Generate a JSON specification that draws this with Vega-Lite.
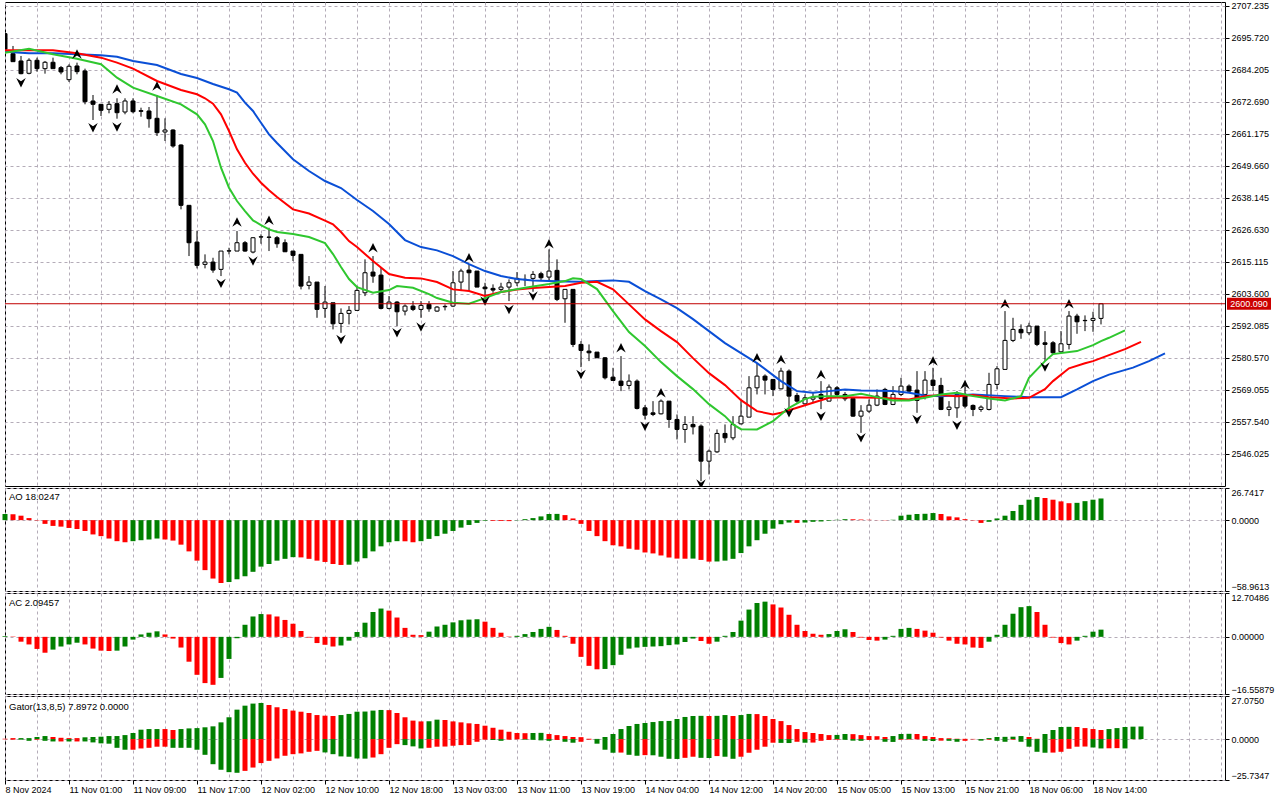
{
  "$schema": "https://vega.github.io/schema/vega-lite/v6.json",
  "padding": {"left": 2, "top": 1, "right": 0, "bottom": 0},
  "background": "#ffffff",
  "spacing": 2,
  "bounds": "flush",
  "config": {
    "view": {"stroke": "#000000", "strokeWidth": 1},
    "axis": {"gridColor": "#b4acb8", "gridDash": [3, 3], "gridWidth": 1, "domain": false, "tickColor": "#000000", "tickSize": 4, "labelFont": "Liberation Sans", "labelFontSize": 9, "labelColor": "#000000", "labelPadding": 2},
    "text": {"font": "Liberation Sans"}
  },
  "datasets": {
    "bars": [
      {"i":0,"o":2697.28,"h":2697.53,"l":2691.41,"c":2691.66,"ao":5.1,"aoc":"g","ac":0.2,"acc":"g"},
      {"i":1,"o":2690.08,"h":2692.85,"l":2687.09,"c":2687.20,"ao":4.9,"aoc":"r","ac":0.1,"acc":"r"},
      {"i":2,"o":2687.45,"h":2689.25,"l":2682.66,"c":2682.88,"ao":3.7,"aoc":"r","ac":-1.4,"acc":"r"},
      {"i":3,"o":2683.02,"h":2688.42,"l":2682.66,"c":2687.70,"ao":1.7,"aoc":"r","ac":-2.2,"acc":"r"},
      {"i":4,"o":2687.70,"h":2688.64,"l":2683.60,"c":2684.68,"ao":-0.3,"aoc":"r","ac":-3.5,"acc":"r"},
      {"i":5,"o":2684.68,"h":2687.45,"l":2682.88,"c":2686.98,"ao":-3.1,"aoc":"r","ac":-4.6,"acc":"r"},
      {"i":6,"o":2686.98,"h":2688.64,"l":2684.68,"c":2684.68,"ao":-4.8,"aoc":"r","ac":-3.7,"acc":"g"},
      {"i":7,"o":2685.04,"h":2685.65,"l":2682.66,"c":2683.49,"ao":-5.4,"aoc":"r","ac":-2.8,"acc":"g"},
      {"i":8,"o":2680.72,"h":2686.26,"l":2679.89,"c":2685.54,"ao":-6.5,"aoc":"r","ac":-2.2,"acc":"g"},
      {"i":9,"o":2685.65,"h":2686.84,"l":2682.66,"c":2683.60,"ao":-7.4,"aoc":"r","ac":-1.7,"acc":"g"},
      {"i":10,"o":2683.85,"h":2684.68,"l":2671.86,"c":2672.80,"ao":-9.0,"aoc":"r","ac":-2.2,"acc":"r"},
      {"i":11,"o":2673.05,"h":2675.21,"l":2666.21,"c":2671.86,"ao":-11.9,"aoc":"r","ac":-3.4,"acc":"r"},
      {"i":12,"o":2671.86,"h":2671.97,"l":2667.65,"c":2669.70,"ao":-13.3,"aoc":"r","ac":-4.0,"acc":"r"},
      {"i":13,"o":2670.06,"h":2673.05,"l":2668.62,"c":2671.86,"ao":-15.3,"aoc":"r","ac":-4.1,"acc":"r"},
      {"i":14,"o":2672.08,"h":2674.02,"l":2666.68,"c":2668.84,"ao":-17.5,"aoc":"r","ac":-4.0,"acc":"g"},
      {"i":15,"o":2669.09,"h":2674.02,"l":2668.26,"c":2673.05,"ao":-18.4,"aoc":"r","ac":-2.8,"acc":"g"},
      {"i":16,"o":2673.05,"h":2674.02,"l":2668.62,"c":2669.20,"ao":-17.5,"aoc":"g","ac":-0.8,"acc":"g"},
      {"i":17,"o":2669.56,"h":2670.64,"l":2667.40,"c":2669.34,"ao":-16.7,"aoc":"g","ac":0.7,"acc":"g"},
      {"i":18,"o":2669.45,"h":2670.89,"l":2663.44,"c":2666.68,"ao":-16.1,"aoc":"g","ac":1.2,"acc":"g"},
      {"i":19,"o":2666.82,"h":2675.21,"l":2660.45,"c":2661.64,"ao":-15.3,"aoc":"g","ac":1.6,"acc":"g"},
      {"i":20,"o":2661.89,"h":2666.82,"l":2658.65,"c":2662.61,"ao":-16.1,"aoc":"r","ac":0.7,"acc":"r"},
      {"i":21,"o":2662.61,"h":2662.86,"l":2656.24,"c":2656.85,"ao":-17.0,"aoc":"r","ac":-0.5,"acc":"r"},
      {"i":22,"o":2657.21,"h":2657.46,"l":2634.06,"c":2635.50,"ao":-20.4,"aoc":"r","ac":-3.1,"acc":"r"},
      {"i":23,"o":2635.50,"h":2635.50,"l":2617.25,"c":2622.04,"ao":-26.0,"aoc":"r","ac":-7.2,"acc":"r"},
      {"i":24,"o":2622.29,"h":2626.25,"l":2612.82,"c":2613.90,"ao":-33.7,"aoc":"r","ac":-11.0,"acc":"r"},
      {"i":25,"o":2614.26,"h":2617.86,"l":2612.82,"c":2615.09,"ao":-41.6,"aoc":"r","ac":-13.4,"acc":"r"},
      {"i":26,"o":2615.09,"h":2616.64,"l":2611.24,"c":2612.21,"ao":-48.6,"aoc":"r","ac":-13.9,"acc":"r"},
      {"i":27,"o":2612.46,"h":2619.05,"l":2610.05,"c":2619.05,"ao":-52.3,"aoc":"r","ac":-11.9,"acc":"g"},
      {"i":28,"o":2619.05,"h":2620.24,"l":2617.86,"c":2619.15,"ao":-51.5,"aoc":"g","ac":-6.4,"acc":"g"},
      {"i":29,"o":2619.05,"h":2626.25,"l":2619.05,"c":2622.04,"ao":-49.2,"aoc":"g","ac":-0.4,"acc":"g"},
      {"i":30,"o":2622.04,"h":2622.65,"l":2618.80,"c":2619.05,"ao":-46.7,"aoc":"g","ac":3.5,"acc":"g"},
      {"i":31,"o":2618.69,"h":2624.09,"l":2618.22,"c":2623.84,"ao":-43.0,"aoc":"g","ac":5.9,"acc":"g"},
      {"i":32,"o":2624.09,"h":2625.06,"l":2621.68,"c":2624.19,"ao":-38.7,"aoc":"g","ac":6.6,"acc":"g"},
      {"i":33,"o":2624.09,"h":2627.44,"l":2619.05,"c":2623.98,"ao":-36.5,"aoc":"g","ac":6.5,"acc":"r"},
      {"i":34,"o":2623.84,"h":2624.45,"l":2620.24,"c":2621.68,"ao":-33.7,"aoc":"g","ac":5.9,"acc":"r"},
      {"i":35,"o":2622.04,"h":2623.26,"l":2618.69,"c":2618.80,"ao":-32.2,"aoc":"g","ac":4.9,"acc":"r"},
      {"i":36,"o":2619.05,"h":2619.05,"l":2615.45,"c":2617.50,"ao":-30.8,"aoc":"g","ac":3.8,"acc":"r"},
      {"i":37,"o":2617.86,"h":2617.86,"l":2605.26,"c":2606.45,"ao":-31.0,"aoc":"r","ac":1.7,"acc":"r"},
      {"i":38,"o":2606.70,"h":2610.05,"l":2605.26,"c":2607.89,"ao":-32.2,"aoc":"r","ac":-0.2,"acc":"r"},
      {"i":39,"o":2607.89,"h":2607.89,"l":2595.04,"c":2598.06,"ao":-33.7,"aoc":"r","ac":-1.8,"acc":"r"},
      {"i":40,"o":2598.42,"h":2606.45,"l":2595.04,"c":2600.69,"ao":-34.8,"aoc":"r","ac":-2.3,"acc":"r"},
      {"i":41,"o":2600.44,"h":2600.44,"l":2590.86,"c":2592.88,"ao":-36.5,"aoc":"r","ac":-2.8,"acc":"r"},
      {"i":42,"o":2593.02,"h":2598.42,"l":2589.64,"c":2596.62,"ao":-37.3,"aoc":"r","ac":-2.5,"acc":"g"},
      {"i":43,"o":2596.62,"h":2599.25,"l":2592.66,"c":2597.70,"ao":-37.1,"aoc":"g","ac":-1.1,"acc":"g"},
      {"i":44,"o":2597.70,"h":2606.45,"l":2597.70,"c":2604.90,"ao":-34.5,"aoc":"g","ac":1.4,"acc":"g"},
      {"i":45,"o":2604.04,"h":2616.06,"l":2602.85,"c":2611.24,"ao":-31.7,"aoc":"g","ac":4.1,"acc":"g"},
      {"i":46,"o":2611.49,"h":2617.25,"l":2607.64,"c":2610.05,"ao":-26.0,"aoc":"g","ac":7.2,"acc":"g"},
      {"i":47,"o":2610.41,"h":2613.04,"l":2598.06,"c":2598.42,"ao":-21.8,"aoc":"g","ac":8.2,"acc":"g"},
      {"i":48,"o":2598.42,"h":2602.85,"l":2598.06,"c":2600.69,"ao":-18.4,"aoc":"g","ac":7.6,"acc":"r"},
      {"i":49,"o":2600.69,"h":2601.05,"l":2592.05,"c":2597.20,"ao":-17.5,"aoc":"g","ac":5.6,"acc":"r"},
      {"i":50,"o":2597.45,"h":2599.86,"l":2595.90,"c":2599.25,"ao":-17.6,"aoc":"r","ac":2.6,"acc":"r"},
      {"i":51,"o":2599.25,"h":2601.05,"l":2597.45,"c":2598.06,"ao":-18.4,"aoc":"r","ac":0.6,"acc":"r"},
      {"i":52,"o":2598.06,"h":2601.05,"l":2595.04,"c":2599.50,"ao":-17.5,"aoc":"g","ac":0.5,"acc":"r"},
      {"i":53,"o":2599.86,"h":2601.05,"l":2597.20,"c":2598.28,"ao":-15.6,"aoc":"g","ac":1.5,"acc":"g"},
      {"i":54,"o":2597.45,"h":2599.25,"l":2597.20,"c":2598.89,"ao":-13.3,"aoc":"g","ac":3.0,"acc":"g"},
      {"i":55,"o":2599.00,"h":2599.86,"l":2597.70,"c":2599.14,"ao":-11.3,"aoc":"g","ac":3.5,"acc":"g"},
      {"i":56,"o":2599.25,"h":2611.85,"l":2598.89,"c":2607.64,"ao":-9.0,"aoc":"g","ac":4.2,"acc":"g"},
      {"i":57,"o":2607.89,"h":2612.68,"l":2604.65,"c":2611.85,"ao":-6.2,"aoc":"g","ac":4.8,"acc":"g"},
      {"i":58,"o":2612.21,"h":2614.26,"l":2604.65,"c":2611.24,"ao":-4.0,"aoc":"g","ac":5.0,"acc":"g"},
      {"i":59,"o":2611.85,"h":2611.85,"l":2606.09,"c":2606.09,"ao":-2.3,"aoc":"g","ac":5.1,"acc":"g"},
      {"i":60,"o":2606.09,"h":2607.64,"l":2601.77,"c":2605.48,"ao":-0.5,"aoc":"g","ac":4.4,"acc":"r"},
      {"i":61,"o":2605.62,"h":2607.06,"l":2604.04,"c":2605.01,"ao":-0.6,"aoc":"r","ac":2.6,"acc":"r"},
      {"i":62,"o":2605.26,"h":2607.64,"l":2604.65,"c":2606.09,"ao":-0.7,"aoc":"r","ac":1.2,"acc":"r"},
      {"i":63,"o":2606.09,"h":2608.86,"l":2601.05,"c":2607.64,"ao":-0.8,"aoc":"r","ac":0.1,"acc":"r"},
      {"i":64,"o":2607.64,"h":2611.49,"l":2606.45,"c":2609.22,"ao":-0.2,"aoc":"g","ac":0.3,"acc":"g"},
      {"i":65,"o":2608.86,"h":2610.66,"l":2606.45,"c":2608.76,"ao":0.8,"aoc":"g","ac":0.8,"acc":"g"},
      {"i":66,"o":2609.22,"h":2611.85,"l":2604.40,"c":2610.66,"ao":1.7,"aoc":"g","ac":1.4,"acc":"g"},
      {"i":67,"o":2610.88,"h":2611.60,"l":2608.25,"c":2609.44,"ao":3.1,"aoc":"g","ac":2.3,"acc":"g"},
      {"i":68,"o":2609.69,"h":2619.66,"l":2608.50,"c":2611.85,"ao":5.1,"aoc":"g","ac":2.9,"acc":"g"},
      {"i":69,"o":2612.10,"h":2616.06,"l":2601.05,"c":2601.66,"ao":5.2,"aoc":"g","ac":2.0,"acc":"r"},
      {"i":70,"o":2601.88,"h":2605.26,"l":2593.24,"c":2605.26,"ao":4.2,"aoc":"r","ac":0.3,"acc":"r"},
      {"i":71,"o":2605.26,"h":2605.26,"l":2584.49,"c":2585.46,"ao":1.4,"aoc":"r","ac":-2.0,"acc":"r"},
      {"i":72,"o":2585.46,"h":2586.65,"l":2577.29,"c":2583.30,"ao":-3.1,"aoc":"r","ac":-5.8,"acc":"r"},
      {"i":73,"o":2583.05,"h":2585.46,"l":2579.45,"c":2582.44,"ao":-9.0,"aoc":"r","ac":-8.4,"acc":"r"},
      {"i":74,"o":2582.69,"h":2582.69,"l":2580.64,"c":2580.64,"ao":-13.3,"aoc":"r","ac":-9.4,"acc":"r"},
      {"i":75,"o":2580.64,"h":2580.89,"l":2572.86,"c":2573.44,"ao":-17.5,"aoc":"r","ac":-9.3,"acc":"g"},
      {"i":76,"o":2573.69,"h":2577.04,"l":2572.50,"c":2572.50,"ao":-20.9,"aoc":"r","ac":-8.2,"acc":"g"},
      {"i":77,"o":2572.25,"h":2581.25,"l":2568.65,"c":2570.70,"ao":-21.8,"aoc":"r","ac":-5.2,"acc":"g"},
      {"i":78,"o":2570.70,"h":2574.66,"l":2569.26,"c":2572.25,"ao":-23.8,"aoc":"r","ac":-3.4,"acc":"g"},
      {"i":79,"o":2572.25,"h":2572.86,"l":2562.06,"c":2562.42,"ao":-24.6,"aoc":"r","ac":-3.1,"acc":"g"},
      {"i":80,"o":2562.64,"h":2563.61,"l":2558.46,"c":2560.01,"ao":-26.9,"aoc":"r","ac":-2.9,"acc":"g"},
      {"i":81,"o":2560.84,"h":2565.05,"l":2559.65,"c":2560.26,"ao":-27.7,"aoc":"r","ac":-2.8,"acc":"g"},
      {"i":82,"o":2560.48,"h":2565.66,"l":2560.26,"c":2565.05,"ao":-29.4,"aoc":"r","ac":-2.7,"acc":"g"},
      {"i":83,"o":2565.05,"h":2565.05,"l":2555.44,"c":2558.46,"ao":-31.1,"aoc":"r","ac":-2.4,"acc":"g"},
      {"i":84,"o":2558.46,"h":2560.26,"l":2551.26,"c":2554.86,"ao":-32.0,"aoc":"r","ac":-2.2,"acc":"g"},
      {"i":85,"o":2554.86,"h":2559.65,"l":2550.04,"c":2556.66,"ao":-32.1,"aoc":"r","ac":-1.5,"acc":"g"},
      {"i":86,"o":2556.66,"h":2559.65,"l":2553.06,"c":2555.80,"ao":-32.0,"aoc":"g","ac":-0.5,"acc":"g"},
      {"i":87,"o":2556.05,"h":2556.66,"l":2536.25,"c":2543.45,"ao":-33.1,"aoc":"r","ac":-1.2,"acc":"r"},
      {"i":88,"o":2543.45,"h":2547.66,"l":2538.66,"c":2547.05,"ao":-34.5,"aoc":"r","ac":-2.0,"acc":"r"},
      {"i":89,"o":2546.80,"h":2554.86,"l":2546.44,"c":2553.42,"ao":-34.4,"aoc":"g","ac":-1.4,"acc":"g"},
      {"i":90,"o":2553.42,"h":2556.66,"l":2550.04,"c":2551.84,"ao":-33.7,"aoc":"g","ac":0.3,"acc":"g"},
      {"i":91,"o":2551.84,"h":2559.65,"l":2551.01,"c":2556.66,"ao":-32.2,"aoc":"g","ac":1.4,"acc":"g"},
      {"i":92,"o":2556.88,"h":2565.05,"l":2556.66,"c":2559.65,"ao":-27.4,"aoc":"g","ac":4.7,"acc":"g"},
      {"i":93,"o":2559.29,"h":2574.05,"l":2559.29,"c":2569.84,"ao":-21.8,"aoc":"g","ac":7.9,"acc":"g"},
      {"i":94,"o":2569.84,"h":2578.84,"l":2567.46,"c":2574.05,"ao":-16.7,"aoc":"g","ac":9.8,"acc":"g"},
      {"i":95,"o":2574.05,"h":2574.66,"l":2567.46,"c":2572.61,"ao":-11.3,"aoc":"g","ac":10.2,"acc":"g"},
      {"i":96,"o":2572.86,"h":2572.86,"l":2566.85,"c":2569.26,"ao":-7.1,"aoc":"g","ac":9.4,"acc":"r"},
      {"i":97,"o":2569.48,"h":2577.04,"l":2569.26,"c":2575.85,"ao":-3.4,"aoc":"g","ac":8.5,"acc":"r"},
      {"i":98,"o":2575.85,"h":2576.46,"l":2560.84,"c":2566.85,"ao":-2.0,"aoc":"g","ac":6.4,"acc":"r"},
      {"i":99,"o":2567.10,"h":2568.04,"l":2564.44,"c":2565.05,"ao":-2.3,"aoc":"r","ac":3.5,"acc":"r"},
      {"i":100,"o":2564.08,"h":2567.46,"l":2563.86,"c":2566.24,"ao":-2.0,"aoc":"g","ac":1.7,"acc":"r"},
      {"i":101,"o":2565.77,"h":2567.93,"l":2564.33,"c":2566.49,"ao":-1.4,"aoc":"g","ac":0.9,"acc":"r"},
      {"i":102,"o":2567.46,"h":2572.25,"l":2562.17,"c":2566.02,"ao":-1.1,"aoc":"g","ac":0.6,"acc":"r"},
      {"i":103,"o":2565.05,"h":2571.06,"l":2565.05,"c":2570.09,"ao":-0.5,"aoc":"g","ac":0.8,"acc":"g"},
      {"i":104,"o":2569.84,"h":2570.45,"l":2566.85,"c":2567.46,"ao":0.3,"aoc":"g","ac":1.7,"acc":"g"},
      {"i":105,"o":2567.46,"h":2568.29,"l":2565.05,"c":2565.88,"ao":0.8,"aoc":"g","ac":2.2,"acc":"g"},
      {"i":106,"o":2566.02,"h":2566.24,"l":2559.40,"c":2559.65,"ao":0.7,"aoc":"r","ac":1.4,"acc":"r"},
      {"i":107,"o":2559.65,"h":2563.61,"l":2553.64,"c":2561.45,"ao":0.5,"aoc":"r","ac":-0.2,"acc":"r"},
      {"i":108,"o":2561.45,"h":2565.66,"l":2560.84,"c":2563.61,"ao":0.3,"aoc":"r","ac":-0.9,"acc":"r"},
      {"i":109,"o":2563.61,"h":2569.26,"l":2563.25,"c":2566.85,"ao":0.1,"aoc":"r","ac":-1.1,"acc":"r"},
      {"i":110,"o":2569.26,"h":2569.84,"l":2563.61,"c":2563.86,"ao":-0.2,"aoc":"r","ac":-0.8,"acc":"g"},
      {"i":111,"o":2563.86,"h":2570.45,"l":2563.61,"c":2567.46,"ao":0.3,"aoc":"g","ac":0.3,"acc":"g"},
      {"i":112,"o":2567.46,"h":2573.44,"l":2566.85,"c":2570.45,"ao":3.7,"aoc":"g","ac":2.3,"acc":"g"},
      {"i":113,"o":2570.45,"h":2571.06,"l":2568.04,"c":2568.65,"ao":4.5,"aoc":"g","ac":2.6,"acc":"g"},
      {"i":114,"o":2569.01,"h":2575.85,"l":2560.84,"c":2565.30,"ao":5.1,"aoc":"g","ac":2.3,"acc":"r"},
      {"i":115,"o":2567.46,"h":2575.85,"l":2565.66,"c":2572.61,"ao":5.3,"aoc":"g","ac":1.8,"acc":"r"},
      {"i":116,"o":2572.61,"h":2577.04,"l":2568.65,"c":2570.70,"ao":5.9,"aoc":"g","ac":1.2,"acc":"r"},
      {"i":117,"o":2570.70,"h":2573.44,"l":2561.81,"c":2562.06,"ao":5.1,"aoc":"r","ac":-0.2,"acc":"r"},
      {"i":118,"o":2562.06,"h":2565.05,"l":2559.65,"c":2562.89,"ao":3.1,"aoc":"r","ac":-1.1,"acc":"r"},
      {"i":119,"o":2562.64,"h":2568.65,"l":2559.04,"c":2567.46,"ao":2.3,"aoc":"r","ac":-2.0,"acc":"r"},
      {"i":120,"o":2567.46,"h":2570.45,"l":2562.42,"c":2563.25,"ao":0.8,"aoc":"r","ac":-2.2,"acc":"r"},
      {"i":121,"o":2563.50,"h":2563.86,"l":2559.65,"c":2562.06,"ao":-0.3,"aoc":"r","ac":-3.1,"acc":"r"},
      {"i":122,"o":2562.06,"h":2563.50,"l":2561.20,"c":2562.89,"ao":-2.3,"aoc":"r","ac":-3.2,"acc":"r"},
      {"i":123,"o":2562.06,"h":2575.24,"l":2561.70,"c":2571.06,"ao":-1.4,"aoc":"g","ac":-1.4,"acc":"g"},
      {"i":124,"o":2571.06,"h":2577.65,"l":2569.26,"c":2576.68,"ao":1.4,"aoc":"g","ac":0.6,"acc":"g"},
      {"i":125,"o":2576.46,"h":2597.45,"l":2576.46,"c":2586.90,"ao":3.7,"aoc":"g","ac":3.5,"acc":"g"},
      {"i":126,"o":2586.90,"h":2595.04,"l":2586.29,"c":2590.86,"ao":7.6,"aoc":"g","ac":6.7,"acc":"g"},
      {"i":127,"o":2590.86,"h":2592.66,"l":2587.48,"c":2589.64,"ao":12.7,"aoc":"g","ac":8.6,"acc":"g"},
      {"i":128,"o":2589.64,"h":2593.24,"l":2588.81,"c":2592.05,"ao":17.0,"aoc":"g","ac":8.9,"acc":"g"},
      {"i":129,"o":2592.05,"h":2592.05,"l":2584.85,"c":2585.46,"ao":19.2,"aoc":"g","ac":7.2,"acc":"r"},
      {"i":130,"o":2586.04,"h":2590.25,"l":2579.45,"c":2585.46,"ao":18.4,"aoc":"r","ac":3.5,"acc":"r"},
      {"i":131,"o":2586.04,"h":2586.65,"l":2581.86,"c":2582.44,"ao":17.0,"aoc":"r","ac":-0.2,"acc":"r"},
      {"i":132,"o":2582.80,"h":2590.25,"l":2582.44,"c":2585.68,"ao":15.6,"aoc":"r","ac":-1.8,"acc":"r"},
      {"i":133,"o":2585.46,"h":2597.45,"l":2583.66,"c":2595.65,"ao":14.1,"aoc":"r","ac":-2.2,"acc":"r"},
      {"i":134,"o":2595.65,"h":2596.48,"l":2589.28,"c":2593.60,"ao":14.4,"aoc":"g","ac":-1.1,"acc":"g"},
      {"i":135,"o":2594.10,"h":2595.90,"l":2590.25,"c":2594.00,"ao":15.8,"aoc":"g","ac":0.3,"acc":"g"},
      {"i":136,"o":2594.10,"h":2597.20,"l":2590.00,"c":2594.82,"ao":17.0,"aoc":"g","ac":1.5,"acc":"g"},
      {"i":137,"o":2594.82,"h":2600.35,"l":2592.66,"c":2600.09,"ao":18.02,"aoc":"g","ac":2.09,"acc":"g"}
    ],
    "gator": [
      {"i":0,"u":0.2,"uc":"r","d":-0.2,"dc":"r"},{"i":1,"u":0.6,"uc":"r","d":-0.4,"dc":"r"},{"i":2,"u":0.6,"uc":"g","d":-0.4,"dc":"g"},{"i":3,"u":0.6,"uc":"g","d":-1.1,"dc":"g"},
      {"i":4,"u":1.3,"uc":"g","d":-0.4,"dc":"r"},{"i":5,"u":1.9,"uc":"g","d":-1.1,"dc":"g"},{"i":6,"u":1.3,"uc":"r","d":-1.5,"dc":"g"},{"i":7,"u":0.8,"uc":"r","d":-1.5,"dc":"r"},
      {"i":8,"u":0.6,"uc":"r","d":-1.5,"dc":"g"},{"i":9,"u":0.6,"uc":"r","d":-1.5,"dc":"r"},{"i":10,"u":1.1,"uc":"g","d":-1.5,"dc":"g"},{"i":11,"u":1.3,"uc":"g","d":-2.1,"dc":"g"},
      {"i":12,"u":1.5,"uc":"g","d":-2.7,"dc":"g"},{"i":13,"u":1.9,"uc":"g","d":-2.9,"dc":"g"},{"i":14,"u":1.9,"uc":"g","d":-5.5,"dc":"g"},{"i":15,"u":2.5,"uc":"g","d":-6.7,"dc":"g"},
      {"i":16,"u":3.8,"uc":"g","d":-6.7,"dc":"r"},{"i":17,"u":5.9,"uc":"g","d":-5.9,"dc":"r"},{"i":18,"u":6.3,"uc":"g","d":-5.5,"dc":"r"},{"i":19,"u":6.3,"uc":"g","d":-4.8,"dc":"r"},
      {"i":20,"u":6.3,"uc":"r","d":-4.8,"dc":"r"},{"i":21,"u":5.7,"uc":"r","d":-5.5,"dc":"g"},{"i":22,"u":6.3,"uc":"g","d":-5.5,"dc":"g"},{"i":23,"u":6.7,"uc":"g","d":-5.5,"dc":"g"},
      {"i":24,"u":6.9,"uc":"g","d":-6.7,"dc":"g"},{"i":25,"u":7.4,"uc":"g","d":-9.9,"dc":"g"},{"i":26,"u":8.0,"uc":"g","d":-15.8,"dc":"g"},{"i":27,"u":10.5,"uc":"g","d":-19.3,"dc":"g"},
      {"i":28,"u":13.7,"uc":"g","d":-20.8,"dc":"g"},{"i":29,"u":18.5,"uc":"g","d":-21.2,"dc":"g"},{"i":30,"u":21.0,"uc":"g","d":-20.0,"dc":"r"},{"i":31,"u":22.3,"uc":"g","d":-17.9,"dc":"r"},
      {"i":32,"u":22.7,"uc":"g","d":-15.1,"dc":"r"},{"i":33,"u":21.4,"uc":"r","d":-13.7,"dc":"r"},{"i":34,"u":20.0,"uc":"r","d":-12.2,"dc":"r"},{"i":35,"u":18.9,"uc":"r","d":-10.5,"dc":"r"},
      {"i":36,"u":17.9,"uc":"r","d":-9.5,"dc":"r"},{"i":37,"u":17.2,"uc":"r","d":-9.0,"dc":"r"},{"i":38,"u":16.4,"uc":"r","d":-8.0,"dc":"r"},{"i":39,"u":15.1,"uc":"r","d":-7.4,"dc":"r"},
      {"i":40,"u":14.7,"uc":"r","d":-8.4,"dc":"g"},{"i":41,"u":14.5,"uc":"r","d":-9.5,"dc":"g"},{"i":42,"u":15.1,"uc":"g","d":-10.9,"dc":"g"},{"i":43,"u":15.8,"uc":"g","d":-11.1,"dc":"g"},
      {"i":44,"u":17.2,"uc":"g","d":-12.2,"dc":"g"},{"i":45,"u":17.3,"uc":"g","d":-12.3,"dc":"g"},{"i":46,"u":17.9,"uc":"g","d":-11.6,"dc":"r"},{"i":47,"u":18.3,"uc":"g","d":-9.5,"dc":"r"},
      {"i":48,"u":18.2,"uc":"r","d":-5.5,"dc":"r"},{"i":49,"u":16.4,"uc":"r","d":-3.2,"dc":"r"},{"i":50,"u":13.7,"uc":"r","d":-3.8,"dc":"g"},{"i":51,"u":11.6,"uc":"r","d":-4.6,"dc":"g"},
      {"i":52,"u":11.1,"uc":"r","d":-5.9,"dc":"g"},{"i":53,"u":11.2,"uc":"g","d":-5.5,"dc":"r"},{"i":54,"u":12.2,"uc":"g","d":-4.8,"dc":"r"},{"i":55,"u":12.0,"uc":"r","d":-4.7,"dc":"r"},
      {"i":56,"u":11.1,"uc":"r","d":-4.2,"dc":"r"},{"i":57,"u":10.5,"uc":"r","d":-3.8,"dc":"r"},{"i":58,"u":9.9,"uc":"r","d":-3.7,"dc":"r"},{"i":59,"u":9.5,"uc":"r","d":-1.7,"dc":"r"},
      {"i":60,"u":8.4,"uc":"r","d":-0.4,"dc":"r"},{"i":61,"u":7.1,"uc":"r","d":-0.6,"dc":"g"},{"i":62,"u":5.9,"uc":"r","d":-1.1,"dc":"g"},{"i":63,"u":4.6,"uc":"r","d":-0.4,"dc":"r"},
      {"i":64,"u":3.8,"uc":"r","d":-0.2,"dc":"r"},{"i":65,"u":3.7,"uc":"r","d":-0.4,"dc":"g"},{"i":66,"u":3.8,"uc":"g","d":-0.5,"dc":"g"},{"i":67,"u":3.9,"uc":"g","d":-0.8,"dc":"g"},
      {"i":68,"u":3.2,"uc":"r","d":-1.1,"dc":"g"},{"i":69,"u":2.5,"uc":"r","d":-0.6,"dc":"r"},{"i":70,"u":1.9,"uc":"r","d":-1.7,"dc":"g"},{"i":71,"u":1.3,"uc":"r","d":-2.3,"dc":"g"},
      {"i":72,"u":1.2,"uc":"r","d":-1.7,"dc":"r"},{"i":73,"u":0.2,"uc":"r","d":-0.4,"dc":"r"},{"i":74,"u":0.1,"uc":"g","d":-2.9,"dc":"g"},{"i":75,"u":1.3,"uc":"g","d":-6.7,"dc":"g"},
      {"i":76,"u":3.2,"uc":"g","d":-8.6,"dc":"g"},{"i":77,"u":6.3,"uc":"g","d":-8.5,"dc":"r"},{"i":78,"u":8.2,"uc":"g","d":-9.9,"dc":"g"},{"i":79,"u":9.5,"uc":"g","d":-10.5,"dc":"g"},
      {"i":80,"u":10.1,"uc":"g","d":-10.1,"dc":"r"},{"i":81,"u":10.7,"uc":"g","d":-10.2,"dc":"g"},{"i":82,"u":11.3,"uc":"g","d":-11.1,"dc":"g"},{"i":83,"u":11.4,"uc":"g","d":-12.4,"dc":"g"},
      {"i":84,"u":12.6,"uc":"g","d":-12.5,"dc":"g"},{"i":85,"u":13.9,"uc":"g","d":-11.8,"dc":"r"},{"i":86,"u":14.5,"uc":"g","d":-11.1,"dc":"r"},{"i":87,"u":14.6,"uc":"g","d":-11.8,"dc":"g"},
      {"i":88,"u":14.5,"uc":"r","d":-11.9,"dc":"g"},{"i":89,"u":14.6,"uc":"g","d":-10.7,"dc":"r"},{"i":90,"u":15.1,"uc":"g","d":-11.1,"dc":"g"},{"i":91,"u":14.5,"uc":"r","d":-12.4,"dc":"g"},
      {"i":92,"u":15.1,"uc":"g","d":-11.1,"dc":"r"},{"i":93,"u":15.8,"uc":"g","d":-8.6,"dc":"r"},{"i":94,"u":15.7,"uc":"r","d":-6.7,"dc":"r"},{"i":95,"u":14.5,"uc":"r","d":-4.8,"dc":"r"},
      {"i":96,"u":12.6,"uc":"r","d":-2.3,"dc":"r"},{"i":97,"u":11.3,"uc":"r","d":-2.4,"dc":"g"},{"i":98,"u":8.8,"uc":"r","d":-2.5,"dc":"g"},{"i":99,"u":6.3,"uc":"r","d":-1.7,"dc":"r"},
      {"i":100,"u":4.4,"uc":"r","d":-2.3,"dc":"g"},{"i":101,"u":3.8,"uc":"r","d":-2.2,"dc":"r"},{"i":102,"u":3.2,"uc":"r","d":-1.1,"dc":"r"},{"i":103,"u":2.5,"uc":"r","d":-0.6,"dc":"r"},
      {"i":104,"u":2.6,"uc":"g","d":-0.4,"dc":"r"},{"i":105,"u":3.2,"uc":"g","d":-0.5,"dc":"g"},{"i":106,"u":3.1,"uc":"r","d":-1.0,"dc":"g"},{"i":107,"u":2.5,"uc":"r","d":-1.1,"dc":"g"},
      {"i":108,"u":1.9,"uc":"r","d":-0.6,"dc":"r"},{"i":109,"u":1.8,"uc":"r","d":-0.4,"dc":"r"},{"i":110,"u":1.3,"uc":"r","d":-1.7,"dc":"g"},{"i":111,"u":1.9,"uc":"g","d":-1.8,"dc":"g"},
      {"i":112,"u":3.2,"uc":"g","d":-0.4,"dc":"r"},{"i":113,"u":3.3,"uc":"g","d":-0.3,"dc":"r"},{"i":114,"u":3.2,"uc":"r","d":-0.2,"dc":"r"},{"i":115,"u":1.9,"uc":"r","d":-1.1,"dc":"g"},
      {"i":116,"u":1.3,"uc":"r","d":-1.2,"dc":"g"},{"i":117,"u":0.6,"uc":"r","d":-1.0,"dc":"r"},{"i":118,"u":0.5,"uc":"r","d":-1.1,"dc":"g"},{"i":119,"u":0.2,"uc":"r","d":-1.7,"dc":"g"},
      {"i":120,"u":0.15,"uc":"r","d":-1.1,"dc":"r"},{"i":121,"u":0.1,"uc":"r","d":-0.2,"dc":"r"},{"i":122,"u":0.05,"uc":"r","d":-1.0,"dc":"g"},{"i":123,"u":0.6,"uc":"g","d":-0.4,"dc":"r"},
      {"i":124,"u":1.3,"uc":"g","d":-1.1,"dc":"g"},{"i":125,"u":1.4,"uc":"g","d":-1.7,"dc":"g"},{"i":126,"u":1.5,"uc":"g","d":-0.4,"dc":"r"},{"i":127,"u":1.9,"uc":"g","d":-1.7,"dc":"g"},
      {"i":128,"u":1.3,"uc":"r","d":-4.8,"dc":"g"},{"i":129,"u":0.2,"uc":"r","d":-8.0,"dc":"g"},{"i":130,"u":3.2,"uc":"g","d":-8.6,"dc":"g"},{"i":131,"u":5.7,"uc":"g","d":-8.5,"dc":"r"},
      {"i":132,"u":7.6,"uc":"g","d":-8.0,"dc":"r"},{"i":133,"u":7.7,"uc":"g","d":-6.1,"dc":"r"},{"i":134,"u":7.6,"uc":"r","d":-4.8,"dc":"r"},{"i":135,"u":6.9,"uc":"r","d":-4.7,"dc":"r"},
      {"i":136,"u":6.3,"uc":"r","d":-5.3,"dc":"g"},{"i":137,"u":5.7,"uc":"r","d":-5.9,"dc":"g"},{"i":138,"u":6.3,"uc":"g","d":-5.8,"dc":"r"},{"i":139,"u":6.9,"uc":"g","d":-5.7,"dc":"r"},
      {"i":140,"u":7.6,"uc":"g","d":-5.9,"dc":"g"},{"i":141,"u":7.8,"uc":"g","d":-0.1,"dc":"r"},{"i":142,"u":7.9,"uc":"g","d":0,"dc":"r"}
    ],
    "al": [
      {"i":0,"s":"jaw","v":2690.80},{"i":3,"s":"jaw","v":2690.22},{"i":6,"s":"jaw","v":2690.22},{"i":9,"s":"jaw","v":2689.86},{"i":12,"s":"jaw","v":2689.50},{"i":14,"s":"jaw","v":2689.00},
      {"i":16,"s":"jaw","v":2687.45},{"i":19,"s":"jaw","v":2686.01},{"i":22,"s":"jaw","v":2682.77},{"i":24,"s":"jaw","v":2681.33},{"i":26,"s":"jaw","v":2679.17},{"i":28,"s":"jaw","v":2677.26},
      {"i":29,"s":"jaw","v":2676.04},{"i":30,"s":"jaw","v":2672.44},{"i":31,"s":"jaw","v":2669.45},{"i":32,"s":"jaw","v":2665.24},{"i":33,"s":"jaw","v":2661.06},{"i":34,"s":"jaw","v":2657.93},
      {"i":36,"s":"jaw","v":2652.06},{"i":38,"s":"jaw","v":2647.85},{"i":40,"s":"jaw","v":2644.25},{"i":42,"s":"jaw","v":2641.73},{"i":44,"s":"jaw","v":2637.41},{"i":46,"s":"jaw","v":2633.45},
      {"i":48,"s":"jaw","v":2628.77},{"i":50,"s":"jaw","v":2623.01},{"i":52,"s":"jaw","v":2620.49},{"i":54,"s":"jaw","v":2619.30},{"i":56,"s":"jaw","v":2617.25},{"i":58,"s":"jaw","v":2614.37},
      {"i":60,"s":"jaw","v":2611.85},{"i":62,"s":"jaw","v":2610.05},{"i":64,"s":"jaw","v":2608.97},{"i":66,"s":"jaw","v":2608.50},{"i":68,"s":"jaw","v":2608.25},{"i":70,"s":"jaw","v":2608.07},
      {"i":72,"s":"jaw","v":2608.00},{"i":74,"s":"jaw","v":2608.25},{"i":76,"s":"jaw","v":2608.50},{"i":78,"s":"jaw","v":2608.00},{"i":80,"s":"jaw","v":2604.65},{"i":82,"s":"jaw","v":2601.64},
      {"i":84,"s":"jaw","v":2598.53},{"i":86,"s":"jaw","v":2594.57},{"i":88,"s":"jaw","v":2590.25},{"i":90,"s":"jaw","v":2585.93},{"i":92,"s":"jaw","v":2582.33},{"i":94,"s":"jaw","v":2578.73},
      {"i":96,"s":"jaw","v":2574.41},{"i":97,"s":"jaw","v":2572.25},{"i":99,"s":"jaw","v":2568.65},{"i":101,"s":"jaw","v":2568.04},{"i":103,"s":"jaw","v":2568.65},{"i":105,"s":"jaw","v":2569.26},
      {"i":107,"s":"jaw","v":2568.90},{"i":111,"s":"jaw","v":2568.65},{"i":113,"s":"jaw","v":2568.04},{"i":115,"s":"jaw","v":2567.10},{"i":117,"s":"jaw","v":2566.85},{"i":121,"s":"jaw","v":2567.46},
      {"i":125,"s":"jaw","v":2566.85},{"i":128,"s":"jaw","v":2566.49},{"i":132,"s":"jaw","v":2566.49},{"i":134,"s":"jaw","v":2569.26},{"i":136,"s":"jaw","v":2572.25},{"i":138,"s":"jaw","v":2574.59},
      {"i":141,"s":"jaw","v":2577.11},{"i":143,"s":"jaw","v":2579.45},{"i":145,"s":"jaw","v":2582.22},
      {"i":0,"s":"teeth","v":2691.30},{"i":3,"s":"teeth","v":2691.30},{"i":6,"s":"teeth","v":2691.30},{"i":9,"s":"teeth","v":2690.22},{"i":12,"s":"teeth","v":2688.64},{"i":14,"s":"teeth","v":2686.84},
      {"i":16,"s":"teeth","v":2684.68},{"i":19,"s":"teeth","v":2680.25},{"i":22,"s":"teeth","v":2677.01},{"i":24,"s":"teeth","v":2675.46},{"i":25,"s":"teeth","v":2674.02},{"i":26,"s":"teeth","v":2672.08},
      {"i":27,"s":"teeth","v":2668.26},{"i":28,"s":"teeth","v":2662.25},{"i":29,"s":"teeth","v":2655.66},{"i":30,"s":"teeth","v":2650.84},{"i":31,"s":"teeth","v":2646.88},{"i":32,"s":"teeth","v":2643.64},
      {"i":33,"s":"teeth","v":2640.90},{"i":34,"s":"teeth","v":2638.49},{"i":36,"s":"teeth","v":2634.06},{"i":38,"s":"teeth","v":2632.55},{"i":40,"s":"teeth","v":2630.03},{"i":41,"s":"teeth","v":2628.66},
      {"i":42,"s":"teeth","v":2625.89},{"i":43,"s":"teeth","v":2622.65},{"i":44,"s":"teeth","v":2620.49},{"i":46,"s":"teeth","v":2615.45},{"i":48,"s":"teeth","v":2610.77},{"i":50,"s":"teeth","v":2609.44},
      {"i":52,"s":"teeth","v":2609.22},{"i":54,"s":"teeth","v":2607.89},{"i":56,"s":"teeth","v":2605.26},{"i":58,"s":"teeth","v":2604.65},{"i":60,"s":"teeth","v":2602.85},{"i":62,"s":"teeth","v":2604.29},
      {"i":64,"s":"teeth","v":2605.19},{"i":66,"s":"teeth","v":2605.73},{"i":68,"s":"teeth","v":2606.09},{"i":70,"s":"teeth","v":2606.45},{"i":72,"s":"teeth","v":2607.64},{"i":74,"s":"teeth","v":2608.00},
      {"i":76,"s":"teeth","v":2605.26},{"i":78,"s":"teeth","v":2599.86},{"i":80,"s":"teeth","v":2594.46},{"i":82,"s":"teeth","v":2590.25},{"i":84,"s":"teeth","v":2586.29},{"i":86,"s":"teeth","v":2580.53},
      {"i":88,"s":"teeth","v":2575.13},{"i":90,"s":"teeth","v":2570.81},{"i":92,"s":"teeth","v":2565.41},{"i":94,"s":"teeth","v":2561.45},{"i":96,"s":"teeth","v":2560.26},{"i":97,"s":"teeth","v":2560.84},
      {"i":99,"s":"teeth","v":2562.64},{"i":101,"s":"teeth","v":2564.44},{"i":103,"s":"teeth","v":2566.24},{"i":105,"s":"teeth","v":2566.49},{"i":109,"s":"teeth","v":2566.24},{"i":111,"s":"teeth","v":2566.02},
      {"i":113,"s":"teeth","v":2565.66},{"i":115,"s":"teeth","v":2566.85},{"i":117,"s":"teeth","v":2567.21},{"i":119,"s":"teeth","v":2566.85},{"i":121,"s":"teeth","v":2567.21},{"i":123,"s":"teeth","v":2566.49},
      {"i":126,"s":"teeth","v":2566.02},{"i":128,"s":"teeth","v":2566.24},{"i":130,"s":"teeth","v":2569.37},{"i":131,"s":"teeth","v":2572.25},{"i":133,"s":"teeth","v":2576.87},{"i":135,"s":"teeth","v":2578.67},
      {"i":136,"s":"teeth","v":2579.45},{"i":138,"s":"teeth","v":2581.61},{"i":140,"s":"teeth","v":2583.77},{"i":142,"s":"teeth","v":2586.40},
      {"i":0,"s":"lips","v":2690.44},{"i":3,"s":"lips","v":2691.88},{"i":6,"s":"lips","v":2689.86},{"i":9,"s":"lips","v":2688.28},{"i":12,"s":"lips","v":2686.26},{"i":14,"s":"lips","v":2681.44},
      {"i":16,"s":"lips","v":2677.84},{"i":19,"s":"lips","v":2674.85},{"i":22,"s":"lips","v":2671.86},{"i":24,"s":"lips","v":2668.26},{"i":25,"s":"lips","v":2664.66},{"i":26,"s":"lips","v":2658.65},
      {"i":27,"s":"lips","v":2649.04},{"i":28,"s":"lips","v":2641.84},{"i":29,"s":"lips","v":2637.05},{"i":30,"s":"lips","v":2633.45},{"i":31,"s":"lips","v":2630.10},{"i":32,"s":"lips","v":2628.41},
      {"i":33,"s":"lips","v":2626.86},{"i":34,"s":"lips","v":2625.89},{"i":36,"s":"lips","v":2625.17},{"i":38,"s":"lips","v":2624.09},{"i":40,"s":"lips","v":2621.93},{"i":41,"s":"lips","v":2617.97},
      {"i":42,"s":"lips","v":2613.29},{"i":43,"s":"lips","v":2608.97},{"i":44,"s":"lips","v":2606.09},{"i":46,"s":"lips","v":2604.04},{"i":48,"s":"lips","v":2605.01},{"i":49,"s":"lips","v":2606.45},
      {"i":51,"s":"lips","v":2605.84},{"i":53,"s":"lips","v":2603.57},{"i":54,"s":"lips","v":2602.13},{"i":56,"s":"lips","v":2600.44},{"i":58,"s":"lips","v":2600.08},{"i":60,"s":"lips","v":2602.13},
      {"i":62,"s":"lips","v":2604.29},{"i":65,"s":"lips","v":2605.84},{"i":68,"s":"lips","v":2607.17},{"i":70,"s":"lips","v":2608.25},{"i":71,"s":"lips","v":2609.22},{"i":72,"s":"lips","v":2608.97},
      {"i":74,"s":"lips","v":2605.37},{"i":76,"s":"lips","v":2597.45},{"i":78,"s":"lips","v":2589.89},{"i":80,"s":"lips","v":2584.85},{"i":82,"s":"lips","v":2579.09},{"i":84,"s":"lips","v":2574.05},
      {"i":86,"s":"lips","v":2569.37},{"i":88,"s":"lips","v":2563.97},{"i":90,"s":"lips","v":2559.65},{"i":91,"s":"lips","v":2556.66},{"i":92,"s":"lips","v":2554.97},{"i":94,"s":"lips","v":2554.86},
      {"i":96,"s":"lips","v":2557.85},{"i":97,"s":"lips","v":2560.26},{"i":98,"s":"lips","v":2562.64},{"i":100,"s":"lips","v":2565.77},{"i":101,"s":"lips","v":2566.67},{"i":103,"s":"lips","v":2566.85},
      {"i":105,"s":"lips","v":2566.85},{"i":107,"s":"lips","v":2567.68},{"i":109,"s":"lips","v":2566.49},{"i":111,"s":"lips","v":2565.30},{"i":113,"s":"lips","v":2565.30},{"i":115,"s":"lips","v":2566.24},
      {"i":117,"s":"lips","v":2567.46},{"i":119,"s":"lips","v":2568.04},{"i":121,"s":"lips","v":2566.85},{"i":123,"s":"lips","v":2566.02},{"i":125,"s":"lips","v":2565.30},{"i":127,"s":"lips","v":2566.85},
      {"i":128,"s":"lips","v":2573.44},{"i":130,"s":"lips","v":2579.45},{"i":131,"s":"lips","v":2581.97},{"i":134,"s":"lips","v":2583.05},{"i":136,"s":"lips","v":2585.21},{"i":137,"s":"lips","v":2586.65},
      {"i":138,"s":"lips","v":2587.84},{"i":140,"s":"lips","v":2590.50}
    ],
    "fr": [
      {"i":9,"p":2689.97,"d":"u"},{"i":14,"p":2677.37,"d":"u"},{"i":19,"p":2678.45,"d":"u"},{"i":29,"p":2629.49,"d":"u"},{"i":33,"p":2630.10,"d":"u"},
      {"i":46,"p":2620.24,"d":"u"},{"i":58,"p":2616.64,"d":"u"},{"i":68,"p":2621.68,"d":"u"},{"i":77,"p":2584.24,"d":"u"},{"i":82,"p":2568.04,"d":"u"},
      {"i":94,"p":2580.64,"d":"u"},{"i":97,"p":2580.06,"d":"u"},{"i":102,"p":2574.66,"d":"u"},{"i":116,"p":2579.45,"d":"u"},{"i":120,"p":2571.06,"d":"u"},
      {"i":125,"p":2600.08,"d":"u"},{"i":133,"p":2600.08,"d":"u"},
      {"i":2,"p":2679.64,"d":"d"},{"i":11,"p":2663.44,"d":"d"},{"i":14,"p":2663.69,"d":"d"},{"i":27,"p":2607.42,"d":"d"},{"i":31,"p":2615.45,"d":"d"},
      {"i":42,"p":2587.26,"d":"d"},{"i":49,"p":2589.64,"d":"d"},{"i":52,"p":2591.69,"d":"d"},{"i":60,"p":2601.05,"d":"d"},{"i":63,"p":2598.06,"d":"d"},
      {"i":66,"p":2602.85,"d":"d"},{"i":72,"p":2574.66,"d":"d"},{"i":80,"p":2556.05,"d":"d"},{"i":87,"p":2535.2,"d":"d"},{"i":98,"p":2560.84,"d":"d"},
      {"i":102,"p":2559.65,"d":"d"},{"i":107,"p":2551.84,"d":"d"},{"i":114,"p":2558.46,"d":"d"},{"i":119,"p":2556.41,"d":"d"},{"i":130,"p":2577.29,"d":"d"}
    ]
  },
  "vconcat": [
    {
      "width": 1220,
      "height": 484,
      "layer": [
        {
          "data": {"name": "bars"},
          "mark": {"type": "rule", "color": "#000000", "strokeWidth": 1, "clip": true},
          "encoding": {
            "x": {"field": "i", "type": "quantitative", "title": null, "scale": {"domain": [0, 152.5], "nice": false, "zero": false, "padding": 0},
                  "axis": {"values": [0,4,8,12,16,20,24,28,32,36,40,44,48,52,56,60,64,68,72,76,80,84,88,92,96,100,104,108,112,116,120,124,128,132,136,140,144,148,152], "tickCount": 80, "labels": false, "ticks": false, "tickSize": 0, "labelPadding": 0, "minExtent": 0, "maxExtent": 0, "grid": true, "title": null}},
            "y": {"field": "l", "type": "quantitative", "title": null, "scale": {"domain": [2534.51, 2708.67], "nice": false, "zero": false},
                  "axis": {"orient": "right", "values": [2707.235,2695.72,2684.205,2672.69,2661.175,2649.66,2638.145,2626.63,2615.115,2603.6,2592.085,2580.57,2569.055,2557.54,2546.025], "tickCount": 40, "format": ".3f", "labelOverlap": false, "labelBound": false, "grid": true, "title": null}},
            "y2": {"field": "h"}
          }
        },
        {
          "data": {"name": "bars"},
          "mark": {"type": "bar", "width": 4, "stroke": "#000000", "strokeWidth": 1, "clip": true},
          "encoding": {
            "x": {"field": "i", "type": "quantitative", "title": null},
            "y": {"field": "o", "type": "quantitative", "title": null},
            "y2": {"field": "c"},
            "fill": {"condition": {"test": "datum.c > datum.o", "value": "#ffffff"}, "value": "#000000"}
          }
        },
        {
          "data": {"name": "al"},
          "mark": {"type": "line", "strokeWidth": 2, "clip": true},
          "encoding": {
            "x": {"field": "i", "type": "quantitative", "title": null},
            "y": {"field": "v", "type": "quantitative", "title": null},
            "color": {"field": "s", "type": "nominal", "scale": {"domain": ["jaw", "teeth", "lips"], "range": ["#0a4fd6", "#ff0000", "#2fc72f"]}, "legend": null}
          }
        },
        {
          "data": {"name": "fr"},
          "transform": [{"filter": "datum.d == 'u'"}],
          "mark": {"type": "point", "shape": "M0,-1L1,1L0,0.3L-1,1Z", "filled": true, "color": "#000000", "size": 90, "opacity": 1, "clip": true},
          "encoding": {
            "x": {"field": "i", "type": "quantitative", "title": null},
            "y": {"field": "p", "type": "quantitative", "title": null}
          }
        },
        {
          "data": {"name": "fr"},
          "transform": [{"filter": "datum.d == 'd'"}],
          "mark": {"type": "point", "shape": "M0,1L1,-1L0,-0.3L-1,-1Z", "filled": true, "color": "#000000", "size": 90, "opacity": 1, "clip": true},
          "encoding": {
            "x": {"field": "i", "type": "quantitative", "title": null},
            "y": {"field": "p", "type": "quantitative", "title": null}
          }
        },
        {
          "data": {"values": [{"p": 2600.09}]},
          "mark": {"type": "rule", "color": "#c00000", "strokeWidth": 1},
          "encoding": {
            "y": {"field": "p", "type": "quantitative", "title": null}
          }
        },
        {
          "data": {"values": [{"p": 2600.09, "t": "2600.090"}]},
          "mark": {"type": "rect", "color": "#cc0000", "clip": false},
          "encoding": {
            "x": {"datum": 152.75, "type": "quantitative"},
            "x2": {"datum": 158.25},
            "y": {"datum": 2602.25, "type": "quantitative"},
            "y2": {"datum": 2597.95}
          }
        },
        {
          "data": {"values": [{"p": 2600.09, "t": "2600.090"}]},
          "mark": {"type": "text", "color": "#ffffff", "fontSize": 9, "align": "center", "baseline": "middle", "clip": false},
          "encoding": {
            "x": {"datum": 155.5, "type": "quantitative"},
            "y": {"field": "p", "type": "quantitative", "title": null},
            "text": {"field": "t"}
          }
        }
      ]
    },
    {
      "width": 1220,
      "height": 103,
      "layer": [
        {
          "data": {"name": "bars"},
          "mark": {"type": "bar", "width": 5},
          "encoding": {
            "x": {"field": "i", "type": "quantitative", "title": null, "scale": {"domain": [0, 152.5], "nice": false, "zero": false, "padding": 0},
                  "axis": {"values": [0,4,8,12,16,20,24,28,32,36,40,44,48,52,56,60,64,68,72,76,80,84,88,92,96,100,104,108,112,116,120,124,128,132,136,140,144,148,152], "tickCount": 80, "labels": false, "ticks": false, "tickSize": 0, "labelPadding": 0, "minExtent": 0, "maxExtent": 0, "grid": true, "title": null}},
            "y": {"field": "ao", "type": "quantitative", "title": null, "scale": {"domain": [-58.9613, 26.7417], "nice": false, "zero": false},
                  "axis": {"orient": "right", "values": [-58.9613, 0, 26.7417], "tickCount": 10, "format": ".4f", "labelFlush": true, "labelFlushOffset": 0, "labelOverlap": false, "labelBound": false, "grid": true, "title": null}},
            "y2": {"datum": 0},
            "color": {"field": "aoc", "type": "nominal", "scale": {"domain": ["g", "r"], "range": ["#008000", "#ff0000"]}, "legend": null}
          }
        },
        {
          "data": {"values": [{"t": "AO 18.0247"}]},
          "mark": {"type": "text", "align": "left", "baseline": "top", "dx": 4, "dy": 4, "fontSize": 9.5, "color": "#000000"},
          "encoding": {
            "x": {"datum": 0, "type": "quantitative"},
            "y": {"datum": 26.7417, "type": "quantitative"},
            "text": {"field": "t"}
          }
        }
      ]
    },
    {
      "width": 1220,
      "height": 101,
      "layer": [
        {
          "data": {"name": "bars"},
          "mark": {"type": "bar", "width": 5},
          "encoding": {
            "x": {"field": "i", "type": "quantitative", "title": null, "scale": {"domain": [0, 152.5], "nice": false, "zero": false, "padding": 0},
                  "axis": {"values": [0,4,8,12,16,20,24,28,32,36,40,44,48,52,56,60,64,68,72,76,80,84,88,92,96,100,104,108,112,116,120,124,128,132,136,140,144,148,152], "tickCount": 80, "labels": false, "ticks": false, "tickSize": 0, "labelPadding": 0, "minExtent": 0, "maxExtent": 0, "grid": true, "title": null}},
            "y": {"field": "ac", "type": "quantitative", "title": null, "scale": {"domain": [-16.55879, 12.70486], "nice": false, "zero": false},
                  "axis": {"orient": "right", "values": [-16.55879, 0, 12.70486], "tickCount": 10, "format": ".5f", "labelFlush": true, "labelFlushOffset": 0, "labelOverlap": false, "labelBound": false, "grid": true, "title": null}},
            "y2": {"datum": 0},
            "color": {"field": "acc", "type": "nominal", "scale": {"domain": ["g", "r"], "range": ["#008000", "#ff0000"]}, "legend": null}
          }
        },
        {
          "data": {"values": [{"t": "AC 2.09457"}]},
          "mark": {"type": "text", "align": "left", "baseline": "top", "dx": 4, "dy": 5, "fontSize": 9.5, "color": "#000000"},
          "encoding": {
            "x": {"datum": 0, "type": "quantitative"},
            "y": {"datum": 12.70486, "type": "quantitative"},
            "text": {"field": "t"}
          }
        }
      ]
    },
    {
      "width": 1220,
      "height": 84,
      "layer": [
        {
          "data": {"name": "gator"},
          "mark": {"type": "bar", "width": 5},
          "encoding": {
            "x": {"field": "i", "type": "quantitative", "title": null, "scale": {"domain": [0, 152.5], "nice": false, "zero": false, "padding": 0},
                  "axis": {"values": [0,4,8,12,16,20,24,28,32,36,40,44,48,52,56,60,64,68,72,76,80,84,88,92,96,100,104,108,112,116,120,124,128,132,136,140,144,148,152], "tickCount": 80,
                           "grid": true, "title": null, "labelAlign": "left", "labelPadding": 1, "labelFlush": false, "labelOverlap": false, "labelBound": false,
                           "tickOpacity": {"condition": {"test": "datum.value % 8 != 0 || datum.value > 136", "value": 0}, "value": 1},
                           "labelExpr": "datum.value % 8 == 0 && datum.value <= 136 ? ['8 Nov 2024','11 Nov 01:00','11 Nov 09:00','11 Nov 17:00','12 Nov 02:00','12 Nov 10:00','12 Nov 18:00','13 Nov 03:00','13 Nov 11:00','13 Nov 19:00','14 Nov 04:00','14 Nov 12:00','14 Nov 20:00','15 Nov 05:00','15 Nov 13:00','15 Nov 21:00','18 Nov 06:00','18 Nov 14:00'][datum.value / 8] : ''"}},
            "y": {"field": "u", "type": "quantitative", "title": null, "scale": {"domain": [-25.7347, 27.075], "nice": false, "zero": false},
                  "axis": {"orient": "right", "values": [-25.7347, 0, 27.075], "tickCount": 10, "format": ".4f", "labelFlush": true, "labelFlushOffset": 0, "labelOverlap": false, "labelBound": false, "grid": true, "title": null}},
            "y2": {"datum": 0},
            "color": {"field": "uc", "type": "nominal", "scale": {"domain": ["g", "r"], "range": ["#008000", "#ff0000"]}, "legend": null}
          }
        },
        {
          "data": {"name": "gator"},
          "mark": {"type": "bar", "width": 5},
          "encoding": {
            "x": {"field": "i", "type": "quantitative", "title": null},
            "y": {"field": "d", "type": "quantitative", "title": null},
            "y2": {"datum": 0},
            "color": {"field": "dc", "type": "nominal", "legend": null}
          }
        },
        {
          "data": {"values": [{"t": "Gator(13,8,5) 7.8972 0.0000"}]},
          "mark": {"type": "text", "align": "left", "baseline": "top", "dx": 4, "dy": 6, "fontSize": 9.5, "color": "#000000"},
          "encoding": {
            "x": {"datum": 0, "type": "quantitative"},
            "y": {"datum": 27.075, "type": "quantitative"},
            "text": {"field": "t"}
          }
        }
      ]
    }
  ],
  "resolve": {"scale": {"x": "independent", "y": "independent", "color": "independent"}}
}
